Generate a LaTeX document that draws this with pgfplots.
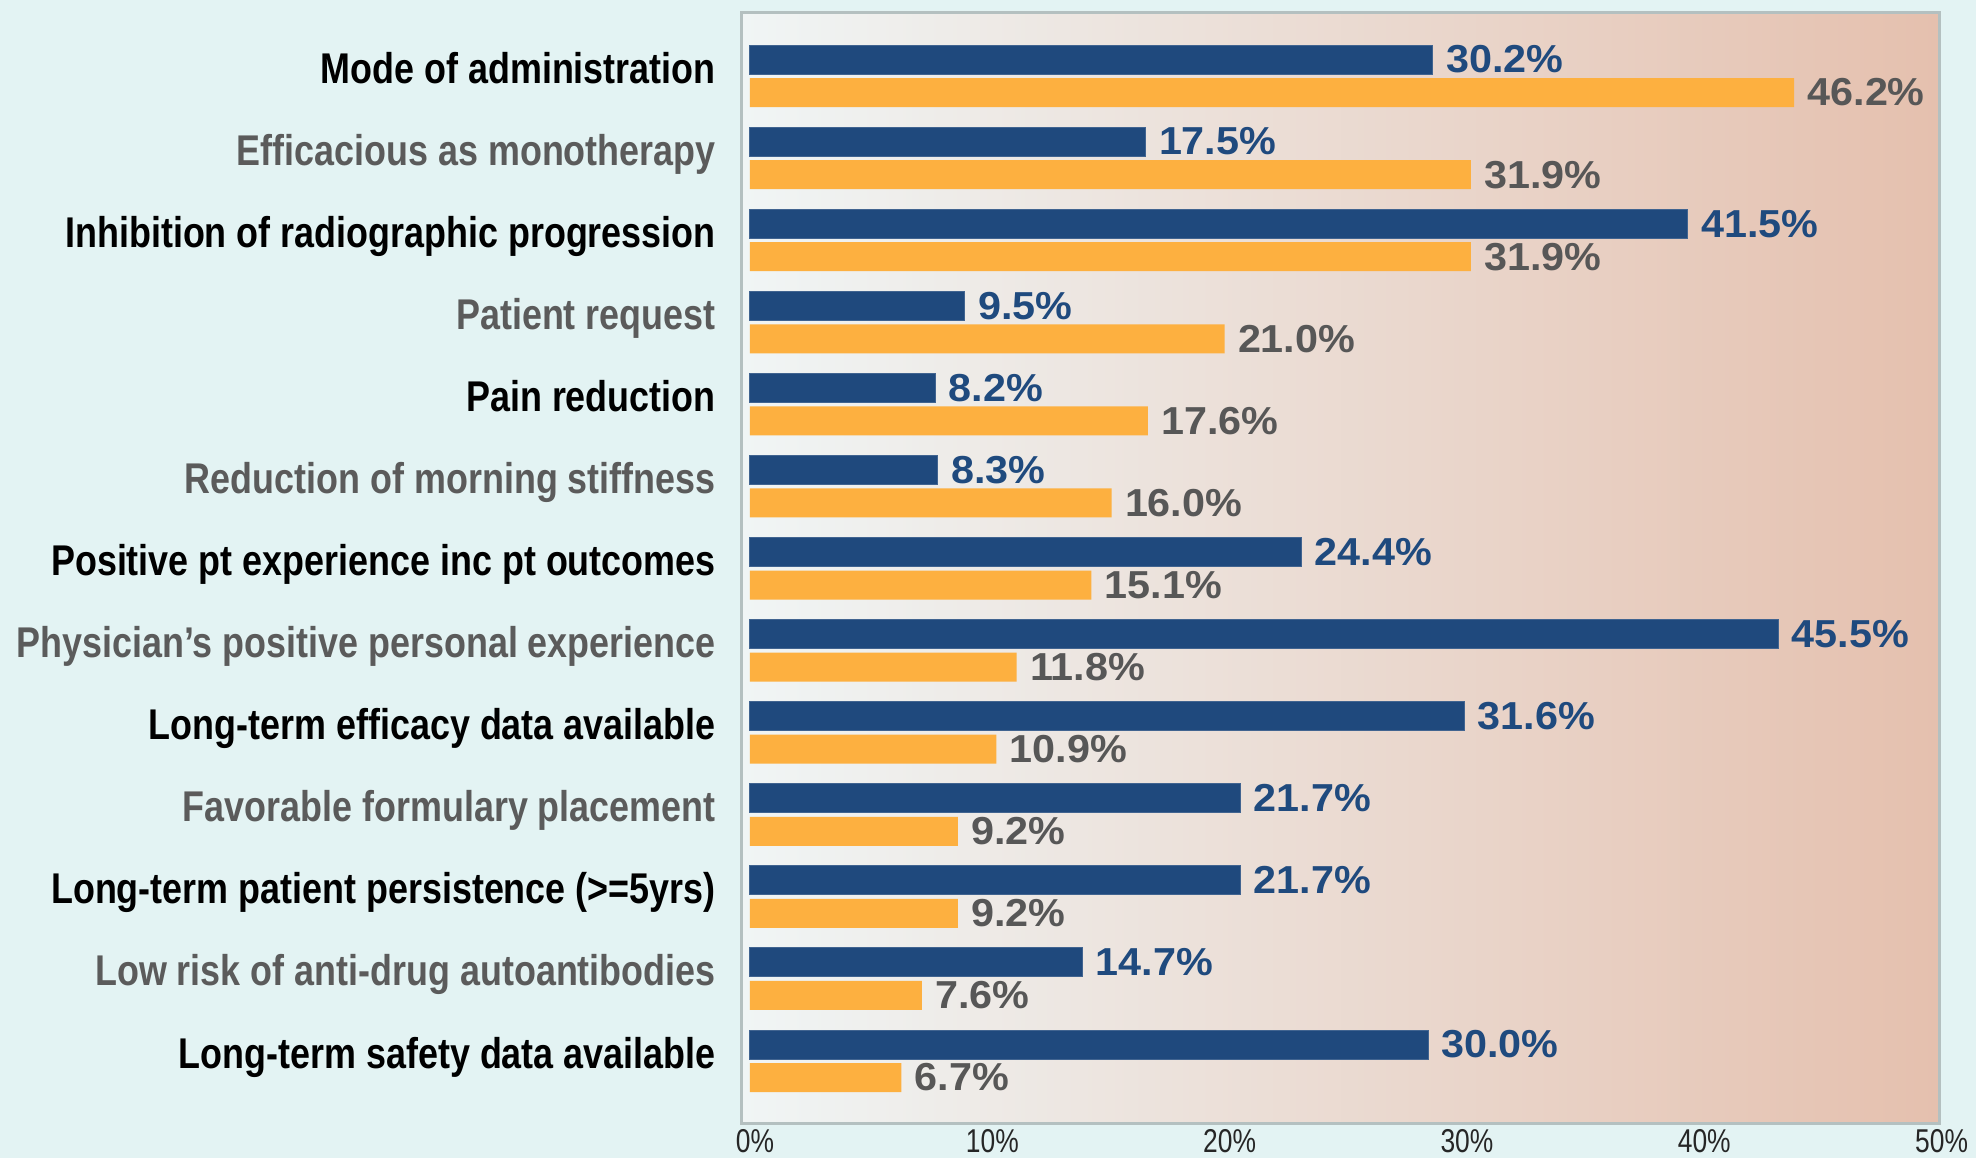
\documentclass[border=0pt]{standalone}
\usepackage{fontspec}
\setmainfont{Liberation Sans}
\newfontfamily\catfont[FakeStretch=0.835]{Liberation Sans}
\newfontfamily\valfont[FakeStretch=1.06]{Liberation Sans}
\newfontfamily\tickfont[FakeStretch=0.8]{Liberation Sans}
\usepackage{pgfplots}
\pgfplotsset{compat=1.18}
\definecolor{bgc}{HTML}{E3F3F3}
\definecolor{gradL}{HTML}{F0F5F5}
\definecolor{gradM}{HTML}{ECE3DA}
\definecolor{gradR}{HTML}{E5C0AE}
\definecolor{framec}{HTML}{B4C0C0}
\definecolor{barblue}{HTML}{1F497D}
\definecolor{barorange}{HTML}{FDB040}
\definecolor{valblue}{HTML}{1F4A7E}
\definecolor{valgray}{HTML}{575757}
\definecolor{catgray}{HTML}{5B5B5B}
\begin{document}
\begin{tikzpicture}
\fill[bgc] (0,0) rectangle (988pt,579pt);
\begin{axis}[
  at={(371pt,17.25pt)}, anchor=south west,
  scale only axis, width=598.5pt, height=555.5pt,
  xmin=-0.354, xmax=52.61, ymin=-0.761, ymax=12.774,
  xbar, bar width=14.5pt,
  /pgf/number format/assume math mode=true,
  axis background/.style={shade, left color=gradL, middle color=gradM, right color=gradR},
  axis line style={draw=framec, line width=1.5pt},
  xtick={0.09,10.59,21.09,31.59,42.09,52.59},
  xticklabels={0\%,10\%,20\%,30\%,40\%,50\%},
  ytick={0,...,12},
  yticklabels={
    {Long-term safety data available},
    {\textcolor{catgray}{Low risk of anti-drug autoantibodies}},
    {Long-term patient persistence (>=5yrs)},
    {\textcolor{catgray}{Favorable formulary placement}},
    {Long-term efficacy data available},
    {\textcolor{catgray}{Physician’s positive personal experience}},
    {Positive pt experience inc pt outcomes},
    {\textcolor{catgray}{Reduction of morning stiffness}},
    {Pain reduction},
    {\textcolor{catgray}{Patient request}},
    {Inhibition of radiographic progression},
    {\textcolor{catgray}{Efficacious as monotherapy}},
    {Mode of administration}},
  major tick length=0pt,
  tick style={draw=none},
  yticklabel style={font=\catfont\bfseries\fontsize{21.5pt}{24pt}\selectfont, anchor=base east, inner sep=0pt, xshift=-13pt, yshift=-3.5pt},
  xticklabel style={font=\tickfont\fontsize{16.5pt}{18pt}\selectfont, text=black!85, anchor=north, inner sep=0pt, yshift=-3pt, xshift=1.5pt},
  point meta=x,
  nodes near coords={\pgfmathprintnumber[fixed, fixed zerofill, precision=1, assume math mode=true]{\pgfplotspointmeta}\%},
  clip=false,
]
\addplot[fill=barblue, draw=barblue!85!white, line width=0.5pt, bar shift=8.25pt,
  nodes near coords style={font=\valfont\bfseries\fontsize{19.5pt}{20pt}\selectfont, text=valblue, anchor=west, inner sep=0pt, xshift=6.5pt}]
coordinates {(30.0,0) (14.7,1) (21.7,2) (21.7,3) (31.6,4) (45.5,5) (24.4,6) (8.3,7) (8.2,8) (9.5,9) (41.5,10) (17.5,11) (30.2,12)};
\addplot[fill=barorange, draw=none, bar shift=-8.25pt,
  nodes near coords style={font=\valfont\bfseries\fontsize{19.5pt}{20pt}\selectfont, text=valgray, anchor=west, inner sep=0pt, xshift=6.5pt}]
coordinates {(6.7,0) (7.6,1) (9.2,2) (9.2,3) (10.9,4) (11.8,5) (15.1,6) (16.0,7) (17.6,8) (21.0,9) (31.9,10) (31.9,11) (46.2,12)};
\end{axis}
\pgfresetboundingbox
\useasboundingbox (0,0) rectangle (988pt,579pt);
\end{tikzpicture}
\end{document}
